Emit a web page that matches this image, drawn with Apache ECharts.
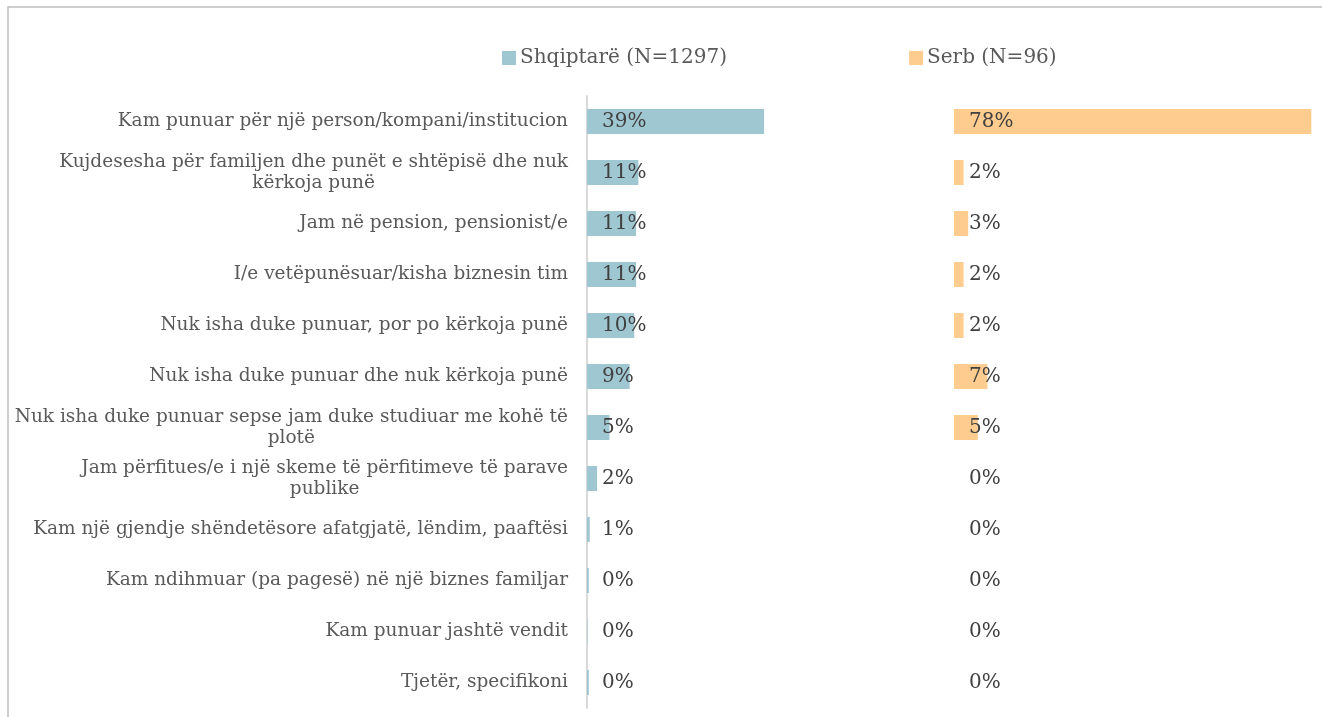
<!DOCTYPE html>
<html>
<head>
<meta charset="utf-8">
<script src="https://cdn.jsdelivr.net/npm/echarts@6/dist/echarts.min.js"></script>
<style>
    html, body { margin: 0; padding: 0; background: #fff; }
    #main { width: 1322px; height: 717px; }
</style>
</head>
<body>
<div id="main"></div>
<script>
    var categories = [
        'Kam punuar për një person/kompani/institucion',
        'Kujdesesha për familjen dhe punët e shtëpisë dhe nuk\nkërkoja punë',
        'Jam në pension, pensionist/e',
        'I/e vetëpunësuar/kisha biznesin tim',
        'Nuk isha duke punuar, por po kërkoja punë',
        'Nuk isha duke punuar dhe nuk kërkoja punë',
        'Nuk isha duke punuar sepse jam duke studiuar me kohë të\nplotë',
        'Jam përfitues/e i një skeme të përfitimeve të parave\npublike',
        'Kam një gjendje shëndetësore afatgjatë, lëndim, paaftësi',
        'Kam ndihmuar (pa pagesë) në një biznes familjar',
        'Kam punuar jashtë vendit',
        'Tjetër, specifikoni'
    ];
    var seriesNames = ['Shqiptarë (N=1297)', 'Serb (N=96)'];
    var shqiptare = [38.6, 11.2, 10.7, 10.7, 10.3, 9.3, 4.9, 2.2, 0.6, 0.4, 0.1, 0.4];
    var serb = [78.1, 2.1, 3.1, 2.1, 2.1, 7.3, 5.2, 0, 0, 0, 0, 0];
    var colors = ['#9fc7d2', '#ffcc8f'];

    var myChart = echarts.init(document.getElementById('main'));

    function pctLabel(p) {
        return Math.round(p.value) + '%';
    }

    var barLabel = {
        show: true,
        position: 'insideLeft',
        distance: 15,
        fontFamily: 'DejaVu Serif',
        fontSize: 20,
        color: '#404040',
        formatter: pctLabel
    };

    var option = {
        backgroundColor: '#fff',
        animation: false,
        color: colors,
        graphic: [{
            type: 'rect',
            shape: {x: 8, y: 7, width: 1400, height: 800},
            style: {fill: 'none', stroke: '#bfbfbf', lineWidth: 1.5},
            silent: true
        }],
        legend: {
            left: 502,
            top: 48,
            padding: 0,
            itemWidth: 14,
            itemHeight: 14,
            itemGap: 182,
            icon: 'rect',
            textStyle: {
                fontFamily: 'DejaVu Serif',
                fontSize: 20,
                color: '#595959',
                padding: [0, 0, 0, -1]
            },
            data: seriesNames
        },
        grid: [
            {left: 587, top: 96, width: 367, height: 612},
            {left: 954, top: 96, width: 366, height: 612}
        ],
        xAxis: [
            {gridIndex: 0, type: 'value', min: 0, max: 80, show: false},
            {gridIndex: 1, type: 'value', min: 0, max: 80, show: false}
        ],
        yAxis: [
            {
                gridIndex: 0,
                type: 'category',
                inverse: true,
                data: categories,
                axisLine: {show: true, lineStyle: {color: '#d9d9d9', width: 2}},
                axisTick: {show: false},
                axisLabel: {
                    margin: 19,
                    align: 'right',
                    fontFamily: 'DejaVu Serif',
                    fontSize: 18.5,
                    lineHeight: 21,
                    color: '#595959',
                    formatter: function (v) {
                        return v.split('\n').map(function (s) { return '{c|' + s + '}'; }).join('\n');
                    },
                    rich: {
                        c: {
                            align: 'center',
                            fontFamily: 'DejaVu Serif',
                            fontSize: 18.5,
                            lineHeight: 21,
                            color: '#595959'
                        }
                    }
                }
            },
            {
                gridIndex: 1,
                type: 'category',
                inverse: true,
                data: categories,
                show: false
            }
        ],
        series: [
            {
                name: seriesNames[0],
                type: 'bar',
                xAxisIndex: 0,
                yAxisIndex: 0,
                barWidth: 25,
                label: barLabel,
                data: shqiptare
            },
            {
                name: seriesNames[1],
                type: 'bar',
                xAxisIndex: 1,
                yAxisIndex: 1,
                barWidth: 25,
                label: barLabel,
                data: serb
            }
        ]
    };

    myChart.setOption(option);
</script>
</body>
</html>
